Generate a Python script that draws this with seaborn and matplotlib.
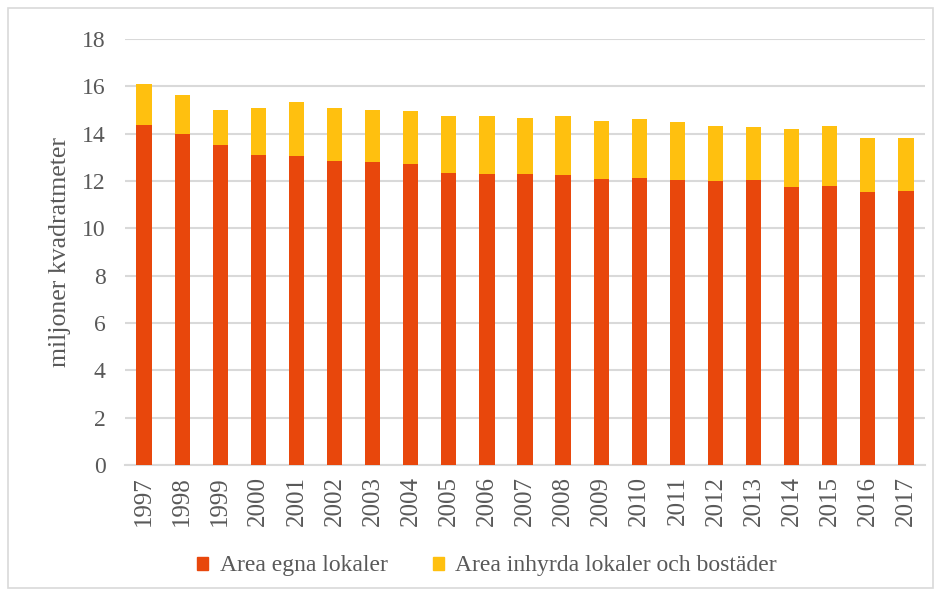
import numpy as np
import pandas as pd
import matplotlib
matplotlib.use("Agg")
import matplotlib.pyplot as plt
import seaborn as sns
from matplotlib.patches import Rectangle

# Data (miljoner kvadratmeter)
years = [str(y) for y in range(1997, 2018)]
egna = [14.37, 14.00, 13.51, 13.11, 13.05, 12.85, 12.81, 12.70, 12.34, 12.30, 12.30,
        12.26, 12.09, 12.13, 12.04, 11.99, 12.04, 11.76, 11.79, 11.55, 11.57]
totalt = [16.10, 15.63, 15.02, 15.09, 15.32, 15.09, 15.01, 14.97, 14.74, 14.75, 14.65,
          14.75, 14.55, 14.64, 14.51, 14.32, 14.29, 14.21, 14.33, 13.82, 13.82]
inhyrda = [t - e for t, e in zip(totalt, egna)]

df = pd.DataFrame({"year": years, "egna": egna, "totalt": totalt})

red = "#E8470C"
yellow = "#FFC00F"
text_col = "#595959"
grid_col = "#D9D9D9"

sns.set_theme(style="white")
plt.rcParams["font.family"] = ["Liberation Serif", "DejaVu Serif"]

fig = plt.figure(figsize=(9.41, 5.96), dpi=100)
ax = fig.add_axes([125 / 941, 1 - 465 / 596, 800 / 941, 426 / 596])

# stacked bars: total in yellow, own premises in red on top
sns.barplot(data=df, x="year", y="totalt", color=yellow, width=0.4, ax=ax,
            saturation=1, linewidth=0, zorder=3)
sns.barplot(data=df, x="year", y="egna", color=red, width=0.4, ax=ax,
            saturation=1, linewidth=0, zorder=4)

ax.set_ylim(0, 18)
ax.set_xlim(-0.5, len(years) - 0.5)
ax.set_yticks(range(0, 19, 2))
ax.yaxis.grid(True, color=grid_col, linewidth=1.5, zorder=0)
ax.set_axisbelow(True)
for s in ["top", "right", "left"]:
    ax.spines[s].set_visible(False)
ax.spines["bottom"].set_color(grid_col)
ax.spines["bottom"].set_linewidth(1.5)
ax.tick_params(axis="y", length=0, labelsize=17, colors=text_col, pad=14)
ax.tick_params(axis="x", length=0, labelsize=18, colors=text_col, rotation=90, pad=8)
ax.set_xlabel("")
ax.set_ylabel("miljoner kvadratmeter", fontsize=18.5, color=text_col, labelpad=8)

handles = [Rectangle((0, 0), 1, 1, color=red), Rectangle((0, 0), 1, 1, color=yellow)]
fig.legend(handles, ["Area egna lokaler", "Area inhyrda lokaler och bostäder"],
           loc="center", bbox_to_anchor=(487 / 941, 1 - 566 / 596), ncol=2, frameon=False,
           fontsize=17, labelcolor=text_col, handlelength=0.47, handleheight=0.47,
           handletextpad=0.5, columnspacing=1.9)

# light border around the whole chart
fig.patches.append(Rectangle((8 / 941, 8 / 596), 1 - 16 / 941, 1 - 16 / 596,
                             transform=fig.transFigure, fill=False,
                             edgecolor=grid_col, linewidth=1.2))

fig.savefig("out.png", dpi=100)
